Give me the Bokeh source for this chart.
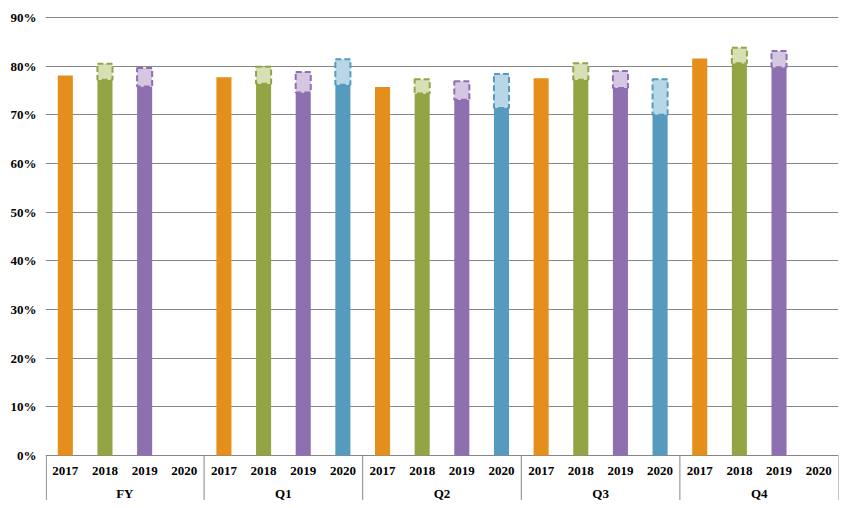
import math
from bokeh.plotting import figure
from bokeh.models import FactorRange, Range1d, ColumnDataSource, FixedTicker, NumeralTickFormatter
from bokeh.core.properties import value
from bokeh.embed import file_html
from bokeh.resources import INLINE

groups = ["FY", "Q1", "Q2", "Q3", "Q4"]
years = ["2017", "2018", "2019", "2020"]
nan = float("nan")

# values in percent: solid part, and top of the dashed (lighter) part
solid_2017 = [78.1, 77.7, 75.7, 77.5, 81.6]
solid_2018 = [77.2, 76.4, 74.4, 77.2, 80.6]
top_2018 = [80.5, 79.9, 77.3, 80.6, 83.8]
solid_2019 = [75.8, 74.6, 73.1, 75.5, 79.8]
top_2019 = [79.6, 78.8, 76.9, 79.0, 83.1]
solid_2020 = [nan, 76.2, 71.4, 70.0, nan]
top_2020 = [nan, 81.4, 78.4, 77.3, nan]

y_ticks = [0, 10, 20, 30, 40, 50, 60, 70, 80, 90]

main_colors = {"2017": "#E48F1B", "2018": "#93A445", "2019": "#8E6FAF", "2020": "#569BBE"}
light_colors = {"2018": "#D7E0B5", "2019": "#D5C6E1", "2020": "#B7D6E6"}

FONT = "Liberation Serif"

factors = [(g, y) for g in groups for y in years]
x_range = FactorRange(*factors, factor_padding=0, group_padding=0, subgroup_padding=0, range_padding=0)

p = figure(width=839, height=500, x_range=x_range, y_range=Range1d(-0.0924, 0.9144),
           output_backend="svg", toolbar_location=None,
           min_border_left=45, min_border_right=1, min_border_top=10, min_border_bottom=0,
           x_axis_location=None)
p.outline_line_color = None
p.background_fill_color = "white"
p.border_fill_color = "white"

series = [
    ("2017", solid_2017, None),
    ("2018", solid_2018, top_2018),
    ("2019", solid_2019, top_2019),
    ("2020", solid_2020, top_2020),
]
BW = 0.38
for yr, solid, top in series:
    xs = [(g, yr) for g in groups]
    s = [v / 100 for v in solid]
    p.vbar(x=xs, top=s, bottom=0, width=BW, fill_color=main_colors[yr], line_color=None)
    if top is not None:
        t = [v / 100 for v in top]
        p.vbar(x=xs, top=t, bottom=s, width=BW, fill_color=light_colors[yr],
               line_color=main_colors[yr], line_width=2, line_dash="6 3")

# y axis
p.yaxis.ticker = FixedTicker(ticks=[v / 100 for v in y_ticks])
p.yaxis.formatter = NumeralTickFormatter(format="0%")
p.yaxis.axis_line_color = None
p.yaxis.major_tick_line_color = None
p.yaxis.minor_tick_line_color = None
p.yaxis.major_tick_out = 0
p.yaxis.major_label_standoff = 9
p.yaxis.major_label_text_font = FONT
p.yaxis.major_label_text_font_style = "bold"
p.yaxis.major_label_text_font_size = "13px"
p.yaxis.major_label_text_color = "black"

p.ygrid.ticker = FixedTicker(ticks=[v / 100 for v in y_ticks])
p.ygrid.grid_line_color = "#868686"
p.ygrid.grid_line_width = 1
p.xgrid.grid_line_color = None

# category labels drawn below the zero line
lab_src = ColumnDataSource(dict(x=factors, y=[-0.032] * len(factors), t=[f[1] for f in factors]))
p.text(x="x", y="y", text="t", source=lab_src, text_font=value(FONT), text_font_style="bold",
       text_font_size="13px", text_align="center", text_baseline="middle", text_color="black")
grp_src = ColumnDataSource(dict(x=groups, y=[-0.0775] * len(groups), t=groups))
p.text(x="x", y="y", text="t", source=grp_src, text_font=value(FONT), text_font_style="bold",
       text_font_size="13px", text_align="center", text_baseline="middle", text_color="black")

# group separators
bounds = [i * len(years) for i in range(len(groups) + 1)]
bounds = [b + (0.02 if b == 0 else 0) for b in bounds]
p.segment(x0=bounds, x1=bounds, y0=[0] * len(bounds), y1=[-0.094] * len(bounds),
          line_color="#868686", line_width=1)

open("out.html", "w").write(file_html(p, INLINE))
